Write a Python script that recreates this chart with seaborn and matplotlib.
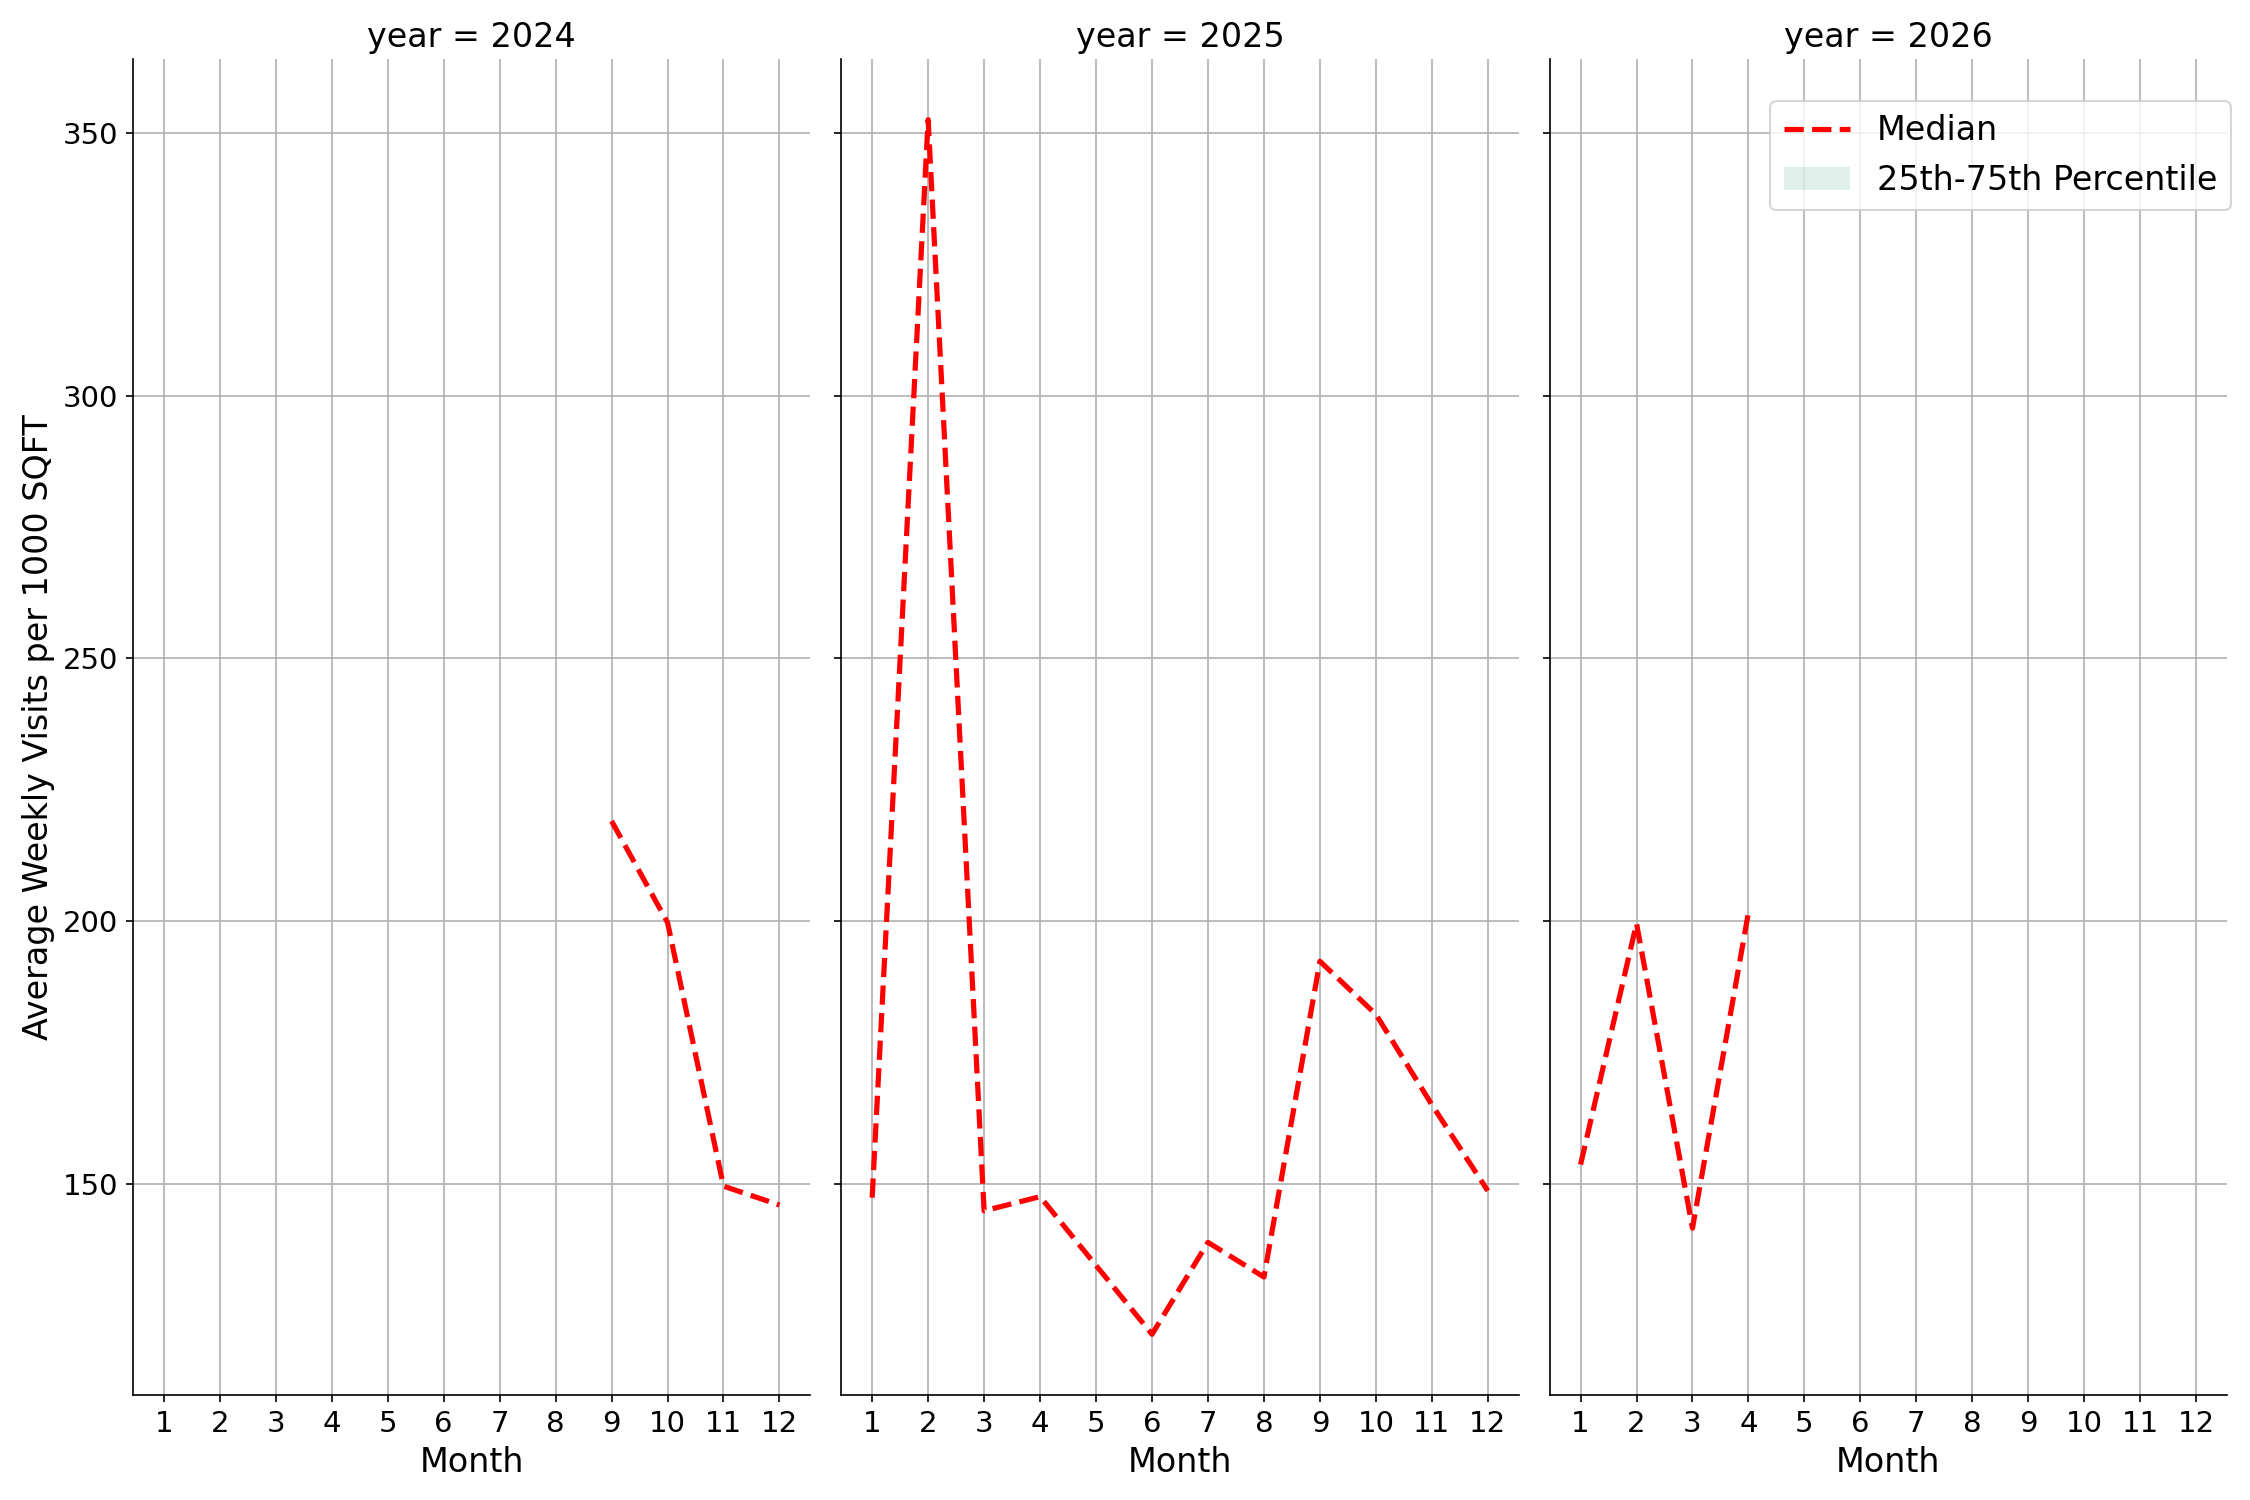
import pandas as pd
import numpy as np
import matplotlib
matplotlib.use('Agg')
import matplotlib.pyplot as plt
import seaborn as sns

# median weekly visits per 1000 sqft
months_2024 = [9, 10, 11, 12]
median_2024 = [219.0, 199.7, 149.5, 145.9]

months_2025 = [1, 2, 3, 4, 5, 6, 7, 8, 9, 10, 11, 12]
median_2025 = [147.3, 352.5, 144.8, 147.5, 134.4, 121.3, 138.8, 132.2, 192.3, 182.2, 165.0, 148.6]

months_2026 = [1, 2, 3, 4]
median_2026 = [153.6, 199.5, 141.5, 201.6]

years = [2024, 2025, 2026]
month_ticks = list(range(1, 13))

frames = []
for yr, m, v in zip(years, [months_2024, months_2025, months_2026],
                    [median_2024, median_2025, median_2026]):
    frames.append(pd.DataFrame({'year': yr, 'month': m, 'median': v,
                                'q25': v, 'q75': v}))
df = pd.concat(frames, ignore_index=True)

plt.rcParams['font.family'] = ['DejaVu Sans']


def draw_panel(data, **kws):
    ax = plt.gca()
    ax.fill_between(data['month'], data['q25'], data['q75'],
                    color='#5fb49b', alpha=0.2, linewidth=0,
                    label='25th-75th Percentile')
    sns.lineplot(data=data, x='month', y='median', color='red',
                 linestyle='--', linewidth=2.5, label='Median', ax=ax)


g = sns.FacetGrid(df, col='year', col_order=years, height=10, aspect=0.5,
                  sharey=True, sharex=True, legend_out=False)
g.map_dataframe(draw_panel)
g.set_titles('year = {col_name}', size=16)

for ax in g.axes.flat:
    ax.set_xticks(month_ticks)
    ax.set_xlim(0.45, 12.55)
    ax.grid(True, color='#b0b0b0', linewidth=0.8)
    ax.set_axisbelow(True)
    ax.tick_params(labelsize=14)
    ax.set_xlabel('Month', fontsize=16)
    if ax.get_legend() is not None:
        ax.get_legend().remove()

g.axes.flat[0].set_ylabel('Average Weekly Visits per 1000 SQFT', fontsize=16)

last = g.axes.flat[-1]
handles, labels = last.get_legend_handles_labels()
order = [labels.index('Median'), labels.index('25th-75th Percentile')]
last.legend([handles[i] for i in order], [labels[i] for i in order],
            loc='upper right', bbox_to_anchor=(1.03, 0.981), fontsize=16)

g.figure.set_size_inches(15, 10)
g.figure.subplots_adjust(left=133 / 2250, right=2227 / 2250,
                         top=1 - 59 / 1500, bottom=1 - 1395 / 1500, wspace=0.046)
g.figure.savefig('out.png', dpi=150)
